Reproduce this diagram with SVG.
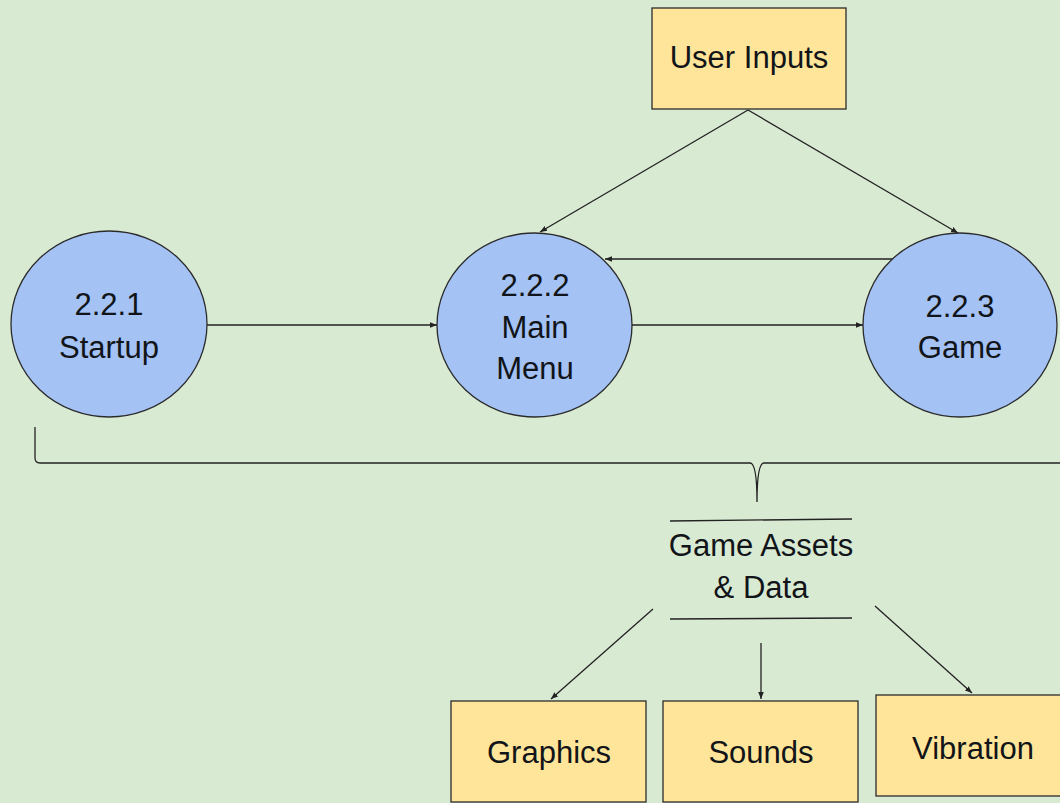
<svg xmlns="http://www.w3.org/2000/svg" width="1060" height="803" viewBox="0 0 1060 803">
<defs>
<style>
.box{fill:#ffe599;stroke:#2b2b2b;stroke-width:1.3}
.proc{fill:#a4c2f4;stroke:#2b2b2b;stroke-width:1.3}
.lbl{font-family:"Liberation Sans",Arial,sans-serif;font-size:31px;fill:#111418;text-anchor:middle}
.conn{stroke:#222;stroke-width:1.3;fill:none}
</style>
<marker id="ah" viewBox="0 0 10 10" refX="10" refY="5" markerWidth="7" markerHeight="7" markerUnits="userSpaceOnUse" orient="auto">
<path d="M0,1 L10,5 L0,9 z" fill="#222"/>
</marker>
</defs>
<rect x="0" y="0" width="1060" height="803" fill="#d9ead3"/>
<g id="connectors">
<line class="conn" x1="748" y1="110" x2="540" y2="232" marker-end="url(#ah)"/>
<line class="conn" x1="748" y1="110" x2="958" y2="233" marker-end="url(#ah)"/>
<line class="conn" x1="207" y1="325" x2="437" y2="325" marker-end="url(#ah)"/>
<line class="conn" x1="632" y1="325" x2="863" y2="325" marker-end="url(#ah)"/>
<line class="conn" x1="893" y1="259" x2="605" y2="259" marker-end="url(#ah)"/>
<path class="conn" d="M35,427 L35,458 Q35,463 40,463 L750,463 Q757,463 757,502 Q757,463 764,463 L1060,463"/>
<line class="conn" x1="653" y1="609" x2="551" y2="699" marker-end="url(#ah)"/>
<line class="conn" x1="761" y1="643" x2="761" y2="699" marker-end="url(#ah)"/>
<line class="conn" x1="875" y1="606" x2="972" y2="693" marker-end="url(#ah)"/>
</g>
<g id="user-inputs">
<rect class="box" x="652" y="8" width="194" height="101"/>
<text class="lbl" x="749" y="68">User Inputs</text>
</g>
<g id="startup">
<ellipse class="proc" cx="109" cy="324" rx="98" ry="93"/>
<text class="lbl" x="109" y="315">2.2.1</text>
<text class="lbl" x="109" y="358">Startup</text>
</g>
<g id="main-menu">
<ellipse class="proc" cx="534.5" cy="325" rx="97.5" ry="92"/>
<text class="lbl" x="535" y="296">2.2.2</text>
<text class="lbl" x="535" y="338">Main</text>
<text class="lbl" x="535" y="379">Menu</text>
</g>
<g id="game">
<ellipse class="proc" cx="960" cy="325" rx="97" ry="92"/>
<text class="lbl" x="960" y="317">2.2.3</text>
<text class="lbl" x="960" y="358">Game</text>
</g>
<g id="game-assets">
<line class="conn" x1="670" y1="521" x2="852" y2="519"/>
<line class="conn" x1="670" y1="619" x2="852" y2="618"/>
<text class="lbl" x="761" y="556">Game Assets</text>
<text class="lbl" x="761" y="598">&amp; Data</text>
</g>
<g id="graphics">
<rect class="box" x="451" y="701" width="195" height="101"/>
<text class="lbl" x="549" y="763">Graphics</text>
</g>
<g id="sounds">
<rect class="box" x="663" y="701" width="195" height="101"/>
<text class="lbl" x="761" y="763">Sounds</text>
</g>
<g id="vibration">
<rect class="box" x="876" y="695" width="190" height="101"/>
<text class="lbl" x="973" y="759">Vibration</text>
</g>
</svg>
